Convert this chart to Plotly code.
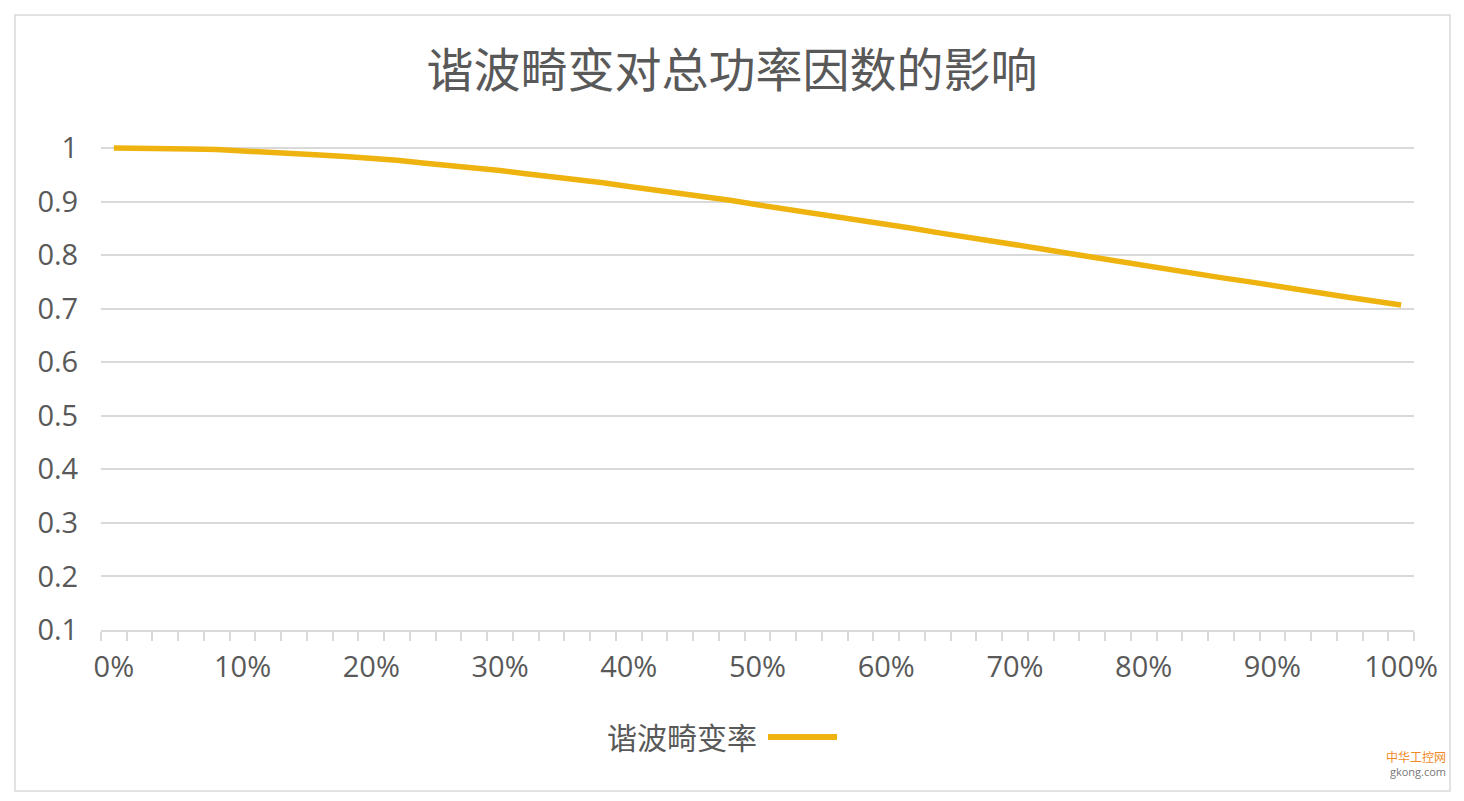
import plotly.graph_objects as go

# harmonic distortion rate (%), one category every 2%
thd_pct = [0, 2, 4, 6, 8, 10, 12, 14, 16, 18, 20, 22, 24, 26, 28, 30, 32, 34, 36, 38,
           40, 42, 44, 46, 48, 50, 52, 54, 56, 58, 60, 62, 64, 66, 68, 70, 72, 74, 76, 78,
           80, 82, 84, 86, 88, 90, 92, 94, 96, 98, 100]

# total power factor
power_factor = [1.000, 1.000, 0.999, 0.998, 0.997, 0.995, 0.993, 0.990, 0.987, 0.984,
                0.981, 0.977, 0.972, 0.968, 0.963, 0.958, 0.952, 0.947, 0.941, 0.935,
                0.928, 0.922, 0.915, 0.908, 0.902, 0.894, 0.887, 0.880, 0.872, 0.865,
                0.857, 0.850, 0.842, 0.835, 0.827, 0.819, 0.812, 0.804, 0.796, 0.789,
                0.781, 0.773, 0.766, 0.758, 0.751, 0.743, 0.736, 0.729, 0.721, 0.714,
                0.707]

x_tick_vals = [0, 10, 20, 30, 40, 50, 60, 70, 80, 90, 100]
x_tick_text = ["0%", "10%", "20%", "30%", "40%", "50%", "60%", "70%", "80%", "90%", "100%"]
y_tick_vals = [0.1, 0.2, 0.3, 0.4, 0.5, 0.6, 0.7, 0.8, 0.9, 1.0]
y_tick_text = ["0.1", "0.2", "0.3", "0.4", "0.5", "0.6", "0.7", "0.8", "0.9", "1"]

title = "谐波畸变对总功率因数的影响"
series_name = "谐波畸变率"

LINE_COLOR = "#EEB30F"
TEXT_COLOR = "#595959"
GRID_COLOR = "#D9D9D9"
FONT = "Open Sans, Noto Sans CJK SC, sans-serif"

# page body adds an 8px margin, so figure pixels = screen pixels - 8
OFF = 8
W, H = 1464, 801
# plot area: y=0.1 at screen 630, y=1 at screen 148; a little headroom above 1
# so the top gridline is still drawn
Y_TOP = 1.0056
pw = 1313
ph = round(482 * (Y_TOP - 0.1) / 0.9)
L = 101 - OFF
T = (630 - OFF) - ph
R, B = W - L - pw, H - T - ph


def px_x(p):
    return (p - OFF - L) / pw


def px_y(p):
    return (T + ph - (p - OFF)) / ph


fig = go.Figure()
fig.add_trace(go.Scatter(
    x=thd_pct, y=power_factor, mode="lines", name=series_name,
    line=dict(color=LINE_COLOR, width=5.5), showlegend=False,
))

fig.update_layout(
    width=W, height=H,
    margin=dict(l=L, r=R, t=T, b=B),
    paper_bgcolor="white", plot_bgcolor="white",
    font=dict(family=FONT, color=TEXT_COLOR, size=29),
    title=dict(text=title, x=(732 - OFF) / W, xanchor="center",
               y=1 - (71 - OFF) / H, yanchor="middle",
               font=dict(size=47, color=TEXT_COLOR, family=FONT)),
    xaxis=dict(
        range=[-1, 101], showgrid=False, zeroline=False,
        showline=True, linecolor=GRID_COLOR, linewidth=2,
        tickmode="array", tickvals=x_tick_vals, ticktext=x_tick_text,
        ticks="outside", ticklen=10, tickcolor="rgba(0,0,0,0)",
        minor=dict(tickmode="array", tickvals=[v - 1 for v in thd_pct] + [101],
                   ticks="outside", ticklen=9, tickcolor=GRID_COLOR, tickwidth=2,
                   showgrid=False),
    ),
    yaxis=dict(
        range=[0.1, Y_TOP], showgrid=True, gridcolor=GRID_COLOR, gridwidth=1.5,
        zeroline=False, showline=False,
        tickmode="array", tickvals=y_tick_vals, ticktext=y_tick_text,
        ticks="outside", ticklen=16, tickcolor="rgba(0,0,0,0)",
    ),
)

# chart border
fig.add_shape(type="rect", xref="paper", yref="paper",
              x0=px_x(15), x1=px_x(1450), y0=px_y(791), y1=px_y(15),
              line=dict(color=GRID_COLOR, width=1.5), fillcolor="rgba(0,0,0,0)", layer="below")

# legend: text then line sample, as in the source chart
fig.add_annotation(xref="paper", yref="paper", x=px_x(759), y=px_y(737),
                   xanchor="right", yanchor="middle", showarrow=False,
                   text=series_name, font=dict(size=30, color=TEXT_COLOR, family=FONT))
fig.add_shape(type="line", xref="paper", yref="paper",
              x0=px_x(768), x1=px_x(837), y0=px_y(737), y1=px_y(737),
              line=dict(color=LINE_COLOR, width=6))

# watermark
fig.add_annotation(xref="paper", yref="paper", x=px_x(1448), y=px_y(757),
                   xanchor="right", yanchor="middle", showarrow=False,
                   text="中华工控网", font=dict(size=12, color="#F08A24", family=FONT))
fig.add_annotation(xref="paper", yref="paper", x=px_x(1448), y=px_y(771),
                   xanchor="right", yanchor="middle", showarrow=False,
                   text="gkong.com", font=dict(size=11, color="#777777", family=FONT))

fig.write_html("out.html")
